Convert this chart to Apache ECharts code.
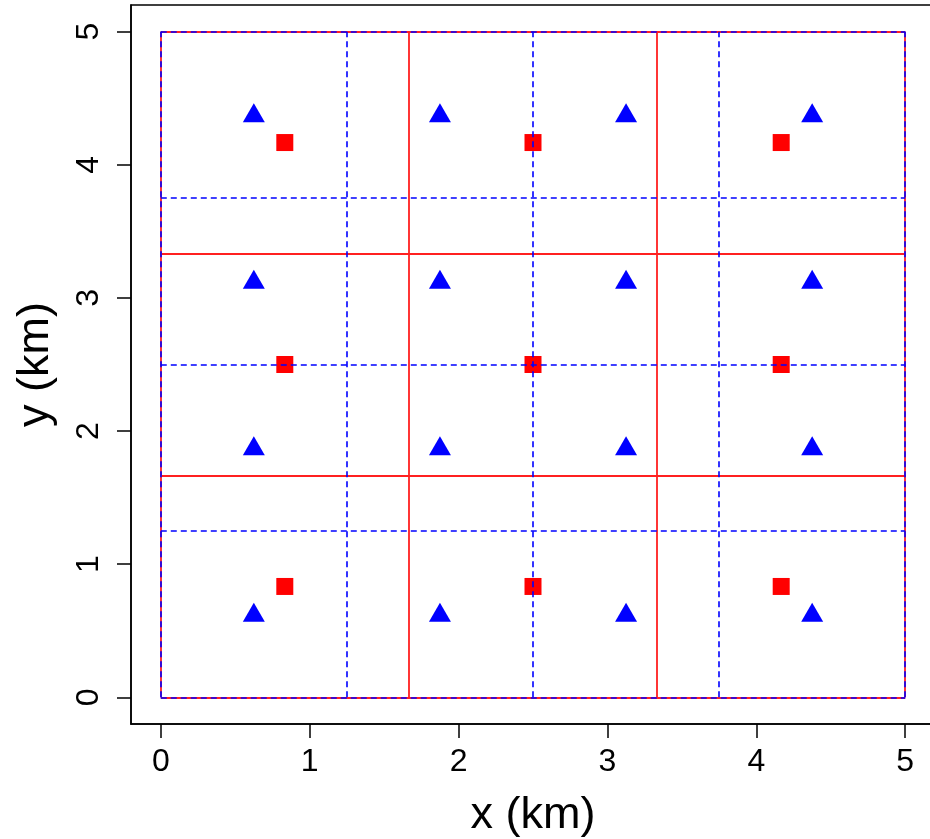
<!DOCTYPE html>
<html>
<head>
<meta charset="utf-8">
<script src="https://cdn.jsdelivr.net/npm/echarts@6/dist/echarts.min.js"></script>
<style>
  html, body { margin: 0; background: #fff; }
  #chart { width: 930px; height: 839px; }
</style>
</head>
<body>
<div id="chart"></div>
<script>
// tick labels of both axes
const tickValues = [0, 1, 2, 3, 4, 5];
// grid lines: red solid (3x3 cells), blue dashed (4x4 cells)
const redLines = [0, 1.667, 3.333, 5];
const blueLines = [0, 1.25, 2.5, 3.75, 5];
const lineExtent = [0, 5];
// red squares (centres of the 3x3 cells)
const squares = [
  [0.833, 0.833], [2.5, 0.833], [4.167, 0.833],
  [0.833, 2.5],   [2.5, 2.5],   [4.167, 2.5],
  [0.833, 4.167], [2.5, 4.167], [4.167, 4.167]
];
// blue triangles (centres of the 4x4 cells)
const triangles = [
  [0.625, 0.625], [1.875, 0.625], [3.125, 0.625], [4.375, 0.625],
  [0.625, 1.875], [1.875, 1.875], [3.125, 1.875], [4.375, 1.875],
  [0.625, 3.125], [1.875, 3.125], [3.125, 3.125], [4.375, 3.125],
  [0.625, 4.375], [1.875, 4.375], [3.125, 4.375], [4.375, 4.375]
];

const font = 'Liberation Sans, Arial, sans-serif';

// vertical + horizontal segments for each position
function segments(list) {
  const out = [];
  list.forEach(v => {
    out.push([{coord: [v, lineExtent[0]]}, {coord: [v, lineExtent[1]]}]);
    out.push([{coord: [lineExtent[0], v]}, {coord: [lineExtent[1], v]}]);
  });
  return out;
}

const axisCommon = {
  type: 'value',
  min: -0.2,
  max: 5.2,
  splitLine: {show: false},
  axisLine: {show: true, onZero: false, lineStyle: {color: '#000', width: 1.5}},
  axisTick: {show: true, customValues: tickValues, length: 14, lineStyle: {color: '#000', width: 1.5}},
  nameLocation: 'middle',
  nameTextStyle: {fontFamily: font, fontSize: 45, color: '#000'}
};

const chart = echarts.init(document.getElementById('chart'));
chart.setOption({
  backgroundColor: '#ffffff',
  animation: false,
  grid: {
    left: 131, top: 5, right: -5, bottom: 115,
    outerBoundsMode: 'none',
    containLabel: false,
    show: true, borderColor: '#000', borderWidth: 1.5
  },
  xAxis: Object.assign({}, axisCommon, {
    name: 'x (km)',
    nameGap: 69,
    axisLabel: {customValues: tickValues, margin: 22, fontFamily: font, fontSize: 32, color: '#000'}
  }),
  yAxis: Object.assign({}, axisCommon, {
    name: 'y (km)',
    nameGap: 73,
    axisLabel: {customValues: tickValues, rotate: 90, margin: 26, fontFamily: font, fontSize: 32, color: '#000'}
  }),
  series: [
    {
      type: 'scatter', data: [], silent: true,
      markLine: {
        silent: true, symbol: 'none', label: {show: false},
        lineStyle: {color: '#ff2020', width: 1.8, type: 'solid'},
        data: segments(redLines)
      }
    },
    {
      type: 'scatter', data: [], silent: true,
      markLine: {
        silent: true, symbol: 'none', label: {show: false},
        lineStyle: {color: '#0000ff', width: 1.6, type: [6, 4]},
        data: segments(blueLines)
      }
    },
    {
      name: 'squares', type: 'scatter', symbol: 'rect', symbolSize: 17,
      itemStyle: {color: '#ff0000', opacity: 1},
      data: squares
    },
    {
      name: 'triangles', type: 'scatter', symbol: 'triangle', symbolSize: [22, 19],
      symbolOffset: [0, -2],
      itemStyle: {color: '#0000ff', opacity: 1},
      data: triangles
    }
  ]
});
</script>
</body>
</html>
